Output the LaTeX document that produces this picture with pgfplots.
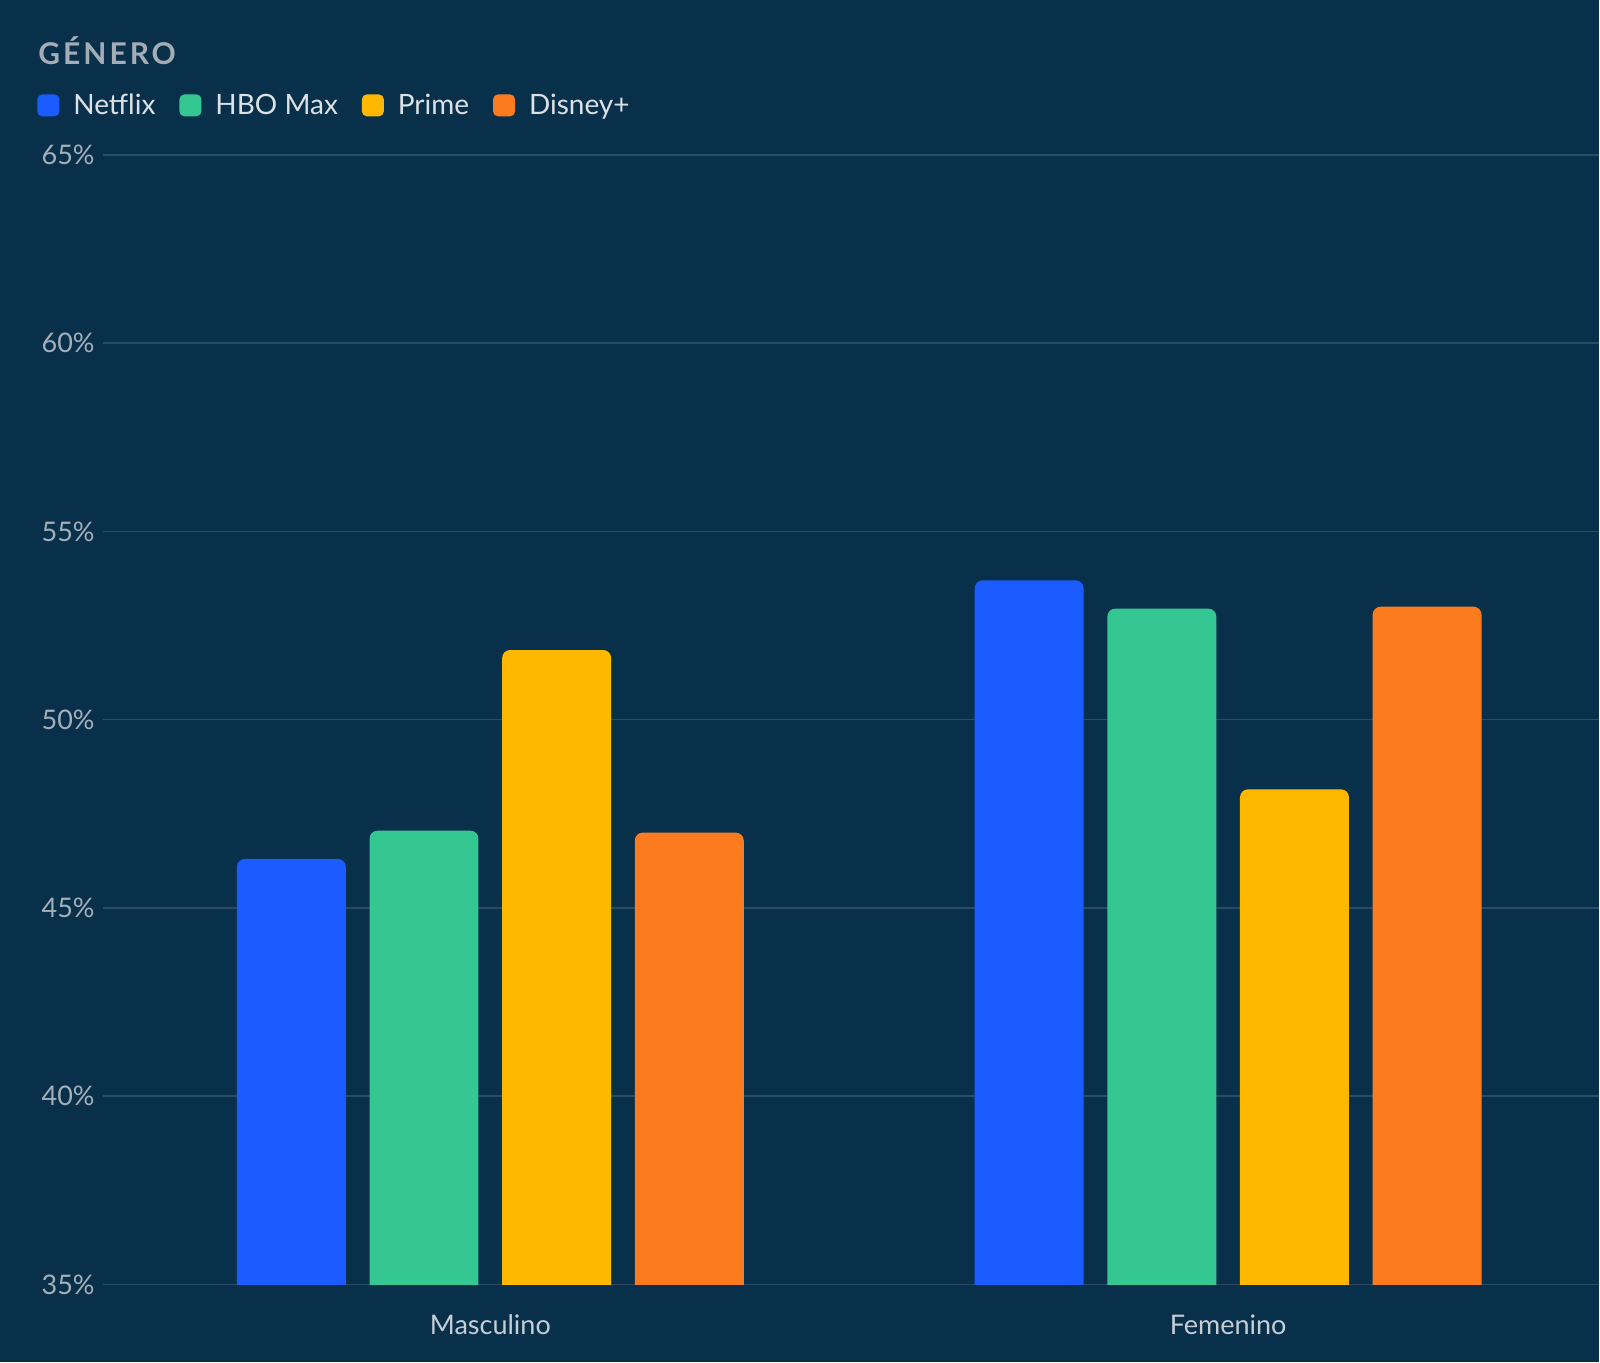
\documentclass[border=0pt]{standalone}
\usepackage{fontspec}
\setmainfont{Lato}
\usepackage{pgfplots}
\pgfplotsset{compat=1.18}

\definecolor{bg}{HTML}{09304A}
\definecolor{gridc}{HTML}{2B4A63}
\definecolor{ticktext}{HTML}{A4AFBA}
\definecolor{xtext}{HTML}{C5CDD5}
\definecolor{legtext}{HTML}{DCE1E6}
\definecolor{titletext}{HTML}{A4ACB5}
\definecolor{netflix}{HTML}{1A5CFF}
\definecolor{hbo}{HTML}{34C792}
\definecolor{prime}{HTML}{FEB800}
\definecolor{disney}{HTML}{FB7B1E}

\pgfplotsset{
  sqlegend/.style={legend image code/.code={
    \fill[##1,draw=none,rounded corners=2.5pt] (0pt,-5.3pt) rectangle (11pt,5.7pt);}},
  % shared frame of both axes, 1px = 0.5pt
  frame/.style={
    at={(51.5pt,20.167pt)}, anchor=south west,
    scale only axis, width=748.5pt, height=583.83pt,
    xmin=-0.525, xmax=1.503, ymin=34, ymax=65,
    axis line style={draw=none}, major tick style={draw=none}},
}

\begin{document}
\begin{tikzpicture}
\fill[bg] (0,0) rectangle (800pt,681.5pt);
\node[anchor=west, inner sep=0pt, text=titletext,
  font=\fontsize{15}{18}\selectfont\bfseries\addfontfeature{LetterSpace=10}]
  at (19pt,656pt) {GÉNERO};

% axis runs from 34 so that the bars' lower corners fall below the 35% line
\begin{axis}[
  frame,
  ybar=11.85pt, bar width=54.5pt,
  ytick={35,40,45,50,55,60,65},
  yticklabels={35\%,40\%,45\%,50\%,55\%,60\%,65\%},
  xtick=\empty,
  ymajorgrids, grid style={gridc, line width=0.75pt},
  yticklabel style={anchor=east, inner sep=0pt, xshift=-4pt,
    text=ticktext, font=\fontsize{13.5}{16}\selectfont},
  legend style={at={(axis description cs:-0.0441,1.0421)}, anchor=west,
    draw=none, fill=none, inner sep=0pt, legend columns=4,
    text=legtext, font=\fontsize{14}{17}\selectfont,
    nodes={inner sep=0pt},
    /tikz/every odd column/.append style={column sep=7pt},
    /tikz/every even column/.append style={column sep=12pt}},
]

\addplot[fill=netflix, draw=none, rounded corners=4pt, sqlegend]
  coordinates {(0,46.3) (1,53.7)};
\addplot[fill=hbo, draw=none, rounded corners=4pt, sqlegend]
  coordinates {(0,47.05) (1,52.95)};
\addplot[fill=prime, draw=none, rounded corners=4pt, sqlegend]
  coordinates {(0,51.85) (1,48.15)};
\addplot[fill=disney, draw=none, rounded corners=4pt, sqlegend]
  coordinates {(0,47.0) (1,53.0)};
\legend{Netflix, HBO Max, Prime, Disney+}
\end{axis}

% hide the strip below the 35% line (35% sits at y = 39pt)
\fill[bg] (51pt,10pt) rectangle (800pt,38.6pt);

% category names on top of the strip cover
\begin{axis}[
  frame,
  ytick=\empty,
  xtick={0,1}, xticklabels={Masculino,Femenino},
  xticklabel style={anchor=north, inner sep=0pt, yshift=3.8pt,
    text=xtext, font=\fontsize{13.5}{16}\selectfont},
]
\end{axis}
\end{tikzpicture}
\end{document}
